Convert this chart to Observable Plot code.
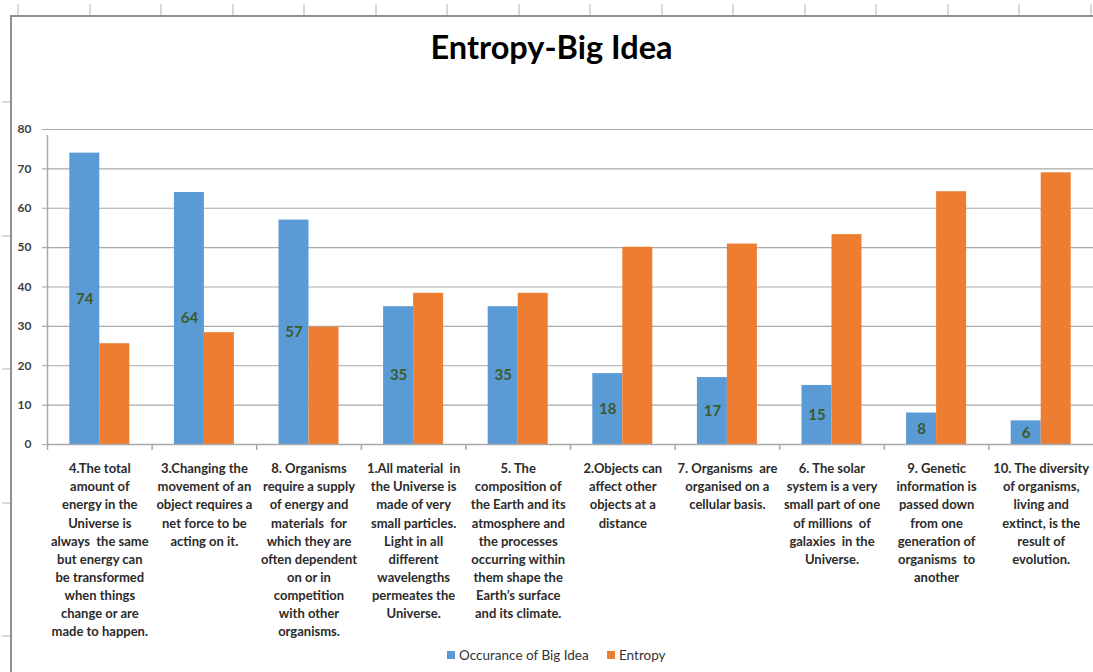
<!DOCTYPE html>
<html>
<head>
<meta charset="utf-8">
<script src="https://cdn.jsdelivr.net/npm/d3@7"></script>
<script src="https://cdn.jsdelivr.net/npm/@observablehq/plot@0.6"></script>
<style>
  html, body { margin: 0; padding: 0; background: #fff; }
  body { width: 1093px; height: 672px; overflow: hidden; position: relative; font-family: Lato, "Open Sans", sans-serif; }
  .deco { position: absolute; background: #d3d9e6; }
  #frame { position: absolute; left: 10px; top: 15px; width: 1100px; height: 700px; border-left: 2px solid #8e8e8e; border-top: 2px solid #8e8e8e; }
  #title { position: absolute; left: 10px; width: 1083px; top: 28px; text-align: center; font-size: 32.5px; line-height: 38px; font-weight: bold; color: #000; }
  #chart { position: absolute; left: 0; top: 110px; }
  #legend { position: absolute; top: 646px; left: 0; width: 1093px; height: 18px; display: flex; align-items: center; font-size: 13.5px; color: #333; }
  .sw { display: inline-block; width: 8px; height: 8px; margin-right: 4px; }
</style>
</head>
<body>
<div id="frame"></div>
<div id="title">Entropy-Big Idea</div>
<div id="chart"></div>
<div id="legend"></div>
<script>
// ---- data ----
const categories = [
  "4.The total\namount of\nenergy in the\nUniverse is\nalways  the same\nbut energy can\nbe transformed\nwhen things\nchange or are\nmade to happen.",
  "3.Changing the\nmovement of an\nobject requires a\nnet force to be\nacting on it.",
  "8. Organisms\nrequire a supply\nof energy and\nmaterials  for\nwhich they are\noften dependent\non or in\ncompetition\nwith other\norganisms.",
  "1.All material  in\nthe Universe is\nmade of very\nsmall particles.\nLight in all\ndifferent\nwavelengths\npermeates the\nUniverse.",
  "5. The\ncomposition of\nthe Earth and its\natmosphere and\nthe processes\noccurring within\nthem shape the\nEarth\u2019s surface\nand its climate.",
  "2.Objects can\naffect other\nobjects at a\ndistance",
  "7. Organisms  are\norganised on a\ncellular basis.",
  "6. The solar\nsystem is a very\nsmall part of one\nof millions  of\ngalaxies  in the\nUniverse.",
  "9. Genetic\ninformation is\npassed down\nfrom one\ngeneration of\norganisms  to\nanother",
  "10. The diversity\nof organisms,\nliving and\nextinct, is the\nresult of\nevolution."
];
const occurrence = [74, 64, 57, 35, 35, 18, 17, 15, 8, 6];
const entropy = [25.6, 28.4, 29.8, 38.4, 38.4, 50.1, 50.9, 53.3, 64.2, 69.0];
const seriesNames = ["Occurance of Big Idea", "Entropy"];
const seriesColors = ["#5B9BD5", "#ED7D31"];
const yTicks = [0, 10, 20, 30, 40, 50, 60, 70, 80];

// ---- decorations (spreadsheet grid behind the chart) ----
for (let i = 0; i < 16; i++) {
  const d = document.createElement("div");
  d.className = "deco";
  d.style.cssText = `left:${17 + i * 71.5}px;top:4px;width:2px;height:11px;`;
  document.body.appendChild(d);
}
for (let i = 0; i < 5; i++) {
  const d = document.createElement("div");
  d.className = "deco";
  d.style.cssText = `left:2px;top:${101 + i * 133.5}px;width:8px;height:2px;`;
  document.body.appendChild(d);
}

// ---- chart ----
const W = 1093, H = 520, mL = 47, mR = 0, mT = 19, mB = 186;
const step = (W - mL - mR) / categories.length;
const barW = 30;
const rows = [];
categories.forEach((c, i) => {
  rows.push({category: c, series: seriesNames[0], value: occurrence[i]});
  rows.push({category: c, series: seriesNames[1], value: entropy[i]});
});
const blue = rows.filter(d => d.series === seriesNames[0]);
const orange = rows.filter(d => d.series === seriesNames[1]);
const grid = "#a9a9a9";

const chart = Plot.plot({
  width: W, height: H,
  marginLeft: mL, marginRight: mR, marginTop: mT, marginBottom: mB,
  style: {fontFamily: "Lato, 'Open Sans', sans-serif", background: "transparent", overflow: "visible"},
  x: {domain: categories, padding: 0, round: false, axis: null},
  y: {domain: [0, 80], axis: null},
  marks: [
    Plot.gridY(yTicks, {stroke: grid, strokeOpacity: 1, strokeWidth: 1.2, insetLeft: -5}),
    Plot.axisY(yTicks, {label: null, tickSize: 0, tickPadding: 16, fontSize: 12, fontWeight: "bold", fill: "#404040"}),
    Plot.barY(blue, {x: "category", y: "value", fill: seriesColors[0], insetLeft: step / 2 - barW, insetRight: step / 2}),
    Plot.barY(orange, {x: "category", y: "value", fill: seriesColors[1], insetLeft: step / 2, insetRight: step / 2 - barW}),
    Plot.ruleY([0], {stroke: grid, strokeWidth: 1.5}),
    Plot.ruleX([categories[0]], {x: d => d, dx: -step / 2, y1: 0, y2: 80, stroke: grid, strokeWidth: 1.5, insetBottom: -6}),
    Plot.ruleX(categories, {x: d => d, dx: -step / 2, y1: 0, y2: 0, stroke: grid, strokeWidth: 1.5, insetBottom: -6}),
    Plot.text(blue, {x: "category", y: d => d.value / 2, text: d => String(d.value), dx: -barW / 2,
      fill: "#3a5a2c", fontSize: 15, fontWeight: "bold"}),
    Plot.text(categories, {x: d => d, y: 0, text: d => d, lineAnchor: "top", dy: 16, lineHeight: 1.39,
      fontSize: 13, fontWeight: "bold", fill: "#2b2b2b"})
  ]
});
document.getElementById("chart").appendChild(chart);

// ---- legend ----
const legend = document.getElementById("legend");
const starts = [447, 607];
seriesNames.forEach((name, i) => {
  const item = document.createElement("div");
  item.style.cssText = `position:absolute;left:${starts[i]}px;display:flex;align-items:center;`;
  item.innerHTML = `<span class="sw" style="background:${seriesColors[i]}"></span><span>${name}</span>`;
  legend.appendChild(item);
});
</script>
</body>
</html>
